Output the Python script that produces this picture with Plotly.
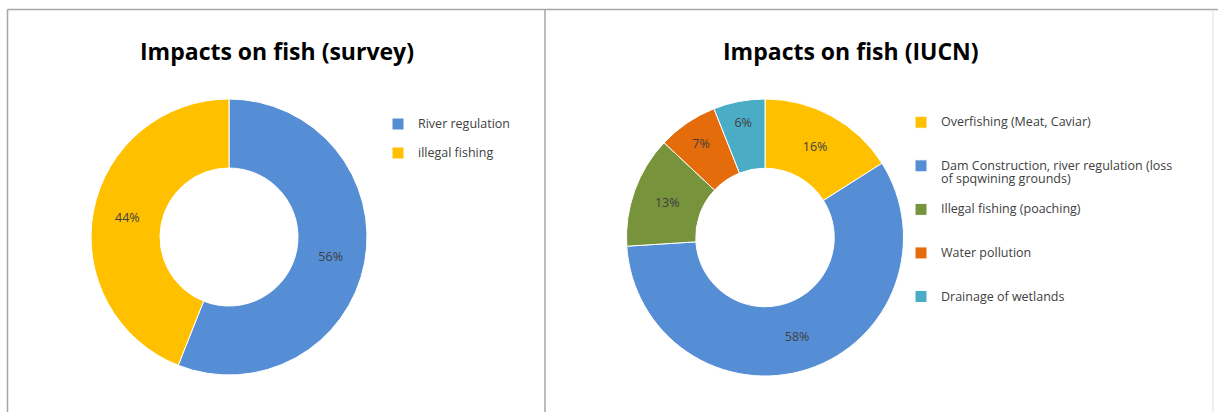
import plotly.graph_objects as go

# Survey results
survey_labels = ["River regulation", "illegal fishing"]
survey_values = [56, 44]
survey_colors = ["#558ED5", "#FFC000"]

# IUCN assessment
iucn_labels = [
    "Overfishing (Meat, Caviar)",
    "Dam Construction, river regulation (loss<br>of spqwining grounds)",
    "Illegal fishing (poaching)",
    "Water pollution",
    "Drainage of wetlands",
]
iucn_values = [16, 58, 13, 7, 6]
iucn_colors = ["#FFC000", "#558ED5", "#77933C", "#E46C0A", "#4BACC6"]

W, H = 1218, 412
FONT = "Open Sans"
TEXT_COLOR = "#404040"


def px_x(x):
    return x / W


def px_y(y):
    return 1 - y / H


def legend_label(label, total_lines):
    # Legend rows are spaced by padding each entry to a fixed line count
    parts = label.split("<br>")
    shown = "<br>".join(f"<span style='font-size:12.5px'>{p}</span>" for p in parts)
    return shown + "<br> " * (total_lines - len(parts))


def domain(cx, cy, r):
    return dict(x=[px_x(cx - r), px_x(cx + r)], y=[px_y(cy + r), px_y(cy - r)])


fig = go.Figure()

fig.add_trace(go.Pie(
    labels=[legend_label(l, 2) for l in survey_labels],
    values=survey_values,
    hole=0.5,
    sort=False,
    direction="clockwise",
    rotation=0,
    marker=dict(colors=survey_colors, line=dict(color="white", width=1)),
    texttemplate="%{value}%",
    textposition="inside",
    insidetextorientation="horizontal",
    textfont=dict(family=FONT, size=12.5, color=TEXT_COLOR),
    domain=domain(229, 237, 138),
    legend="legend",
    hoverinfo="value",
))

fig.add_trace(go.Pie(
    labels=[legend_label(l, 3) for l in iucn_labels],
    values=iucn_values,
    hole=0.5,
    sort=False,
    direction="clockwise",
    rotation=0,
    marker=dict(colors=iucn_colors, line=dict(color="white", width=1)),
    texttemplate="%{value}%",
    textposition="inside",
    insidetextorientation="horizontal",
    textfont=dict(family=FONT, size=12.5, color=TEXT_COLOR),
    domain=domain(765, 237.5, 138.5),
    legend="legend2",
    hoverinfo="value",
))

legend_common = dict(
    valign="top",
    bgcolor="rgba(0,0,0,0)",
    xanchor="left",
    yanchor="top",
    traceorder="normal",
)

# Panel frames
line_style = dict(color="#A6A6A6", width=1.5)
shapes = [
    dict(type="line", xref="paper", yref="paper", x0=px_x(7.5), x1=px_x(7.5),
         y0=px_y(9.5), y1=-0.05, line=line_style),
    dict(type="line", xref="paper", yref="paper", x0=px_x(7.5), x1=px_x(545),
         y0=px_y(9.5), y1=px_y(9.5), line=line_style),
    dict(type="line", xref="paper", yref="paper", x0=px_x(545), x1=px_x(545),
         y0=px_y(9.5), y1=-0.05, line=line_style),
    dict(type="line", xref="paper", yref="paper", x0=px_x(545), x1=1.01,
         y0=px_y(9.5), y1=px_y(9.5), line=line_style),
    dict(type="line", xref="paper", yref="paper", x0=px_x(1213), x1=px_x(1213),
         y0=px_y(9.5), y1=-0.05, line=dict(color="#E0E0E0", width=1)),
]

title_font = dict(family=FONT, size=23, color="#000000")
annotations = [
    dict(text="<b>Impacts on fish (survey)</b>", x=px_x(276.5), y=px_y(51),
         xref="paper", yref="paper", showarrow=False, font=title_font,
         xanchor="center", yanchor="middle"),
    dict(text="<b>Impacts on fish (IUCN)</b>", x=px_x(851), y=px_y(51),
         xref="paper", yref="paper", showarrow=False, font=title_font,
         xanchor="center", yanchor="middle"),
]

fig.update_layout(
    width=W,
    height=H,
    margin=dict(l=0, r=0, t=0, b=0),
    paper_bgcolor="white",
    plot_bgcolor="white",
    showlegend=True,
    legend=dict(x=px_x(378), y=px_y(111),
                font=dict(family=FONT, size=10, color=TEXT_COLOR), **legend_common),
    legend2=dict(x=px_x(901), y=px_y(109),
                 font=dict(family=FONT, size=10.4, color=TEXT_COLOR), **legend_common),
    shapes=shapes,
    annotations=annotations,
)

fig.write_html("out.html")
